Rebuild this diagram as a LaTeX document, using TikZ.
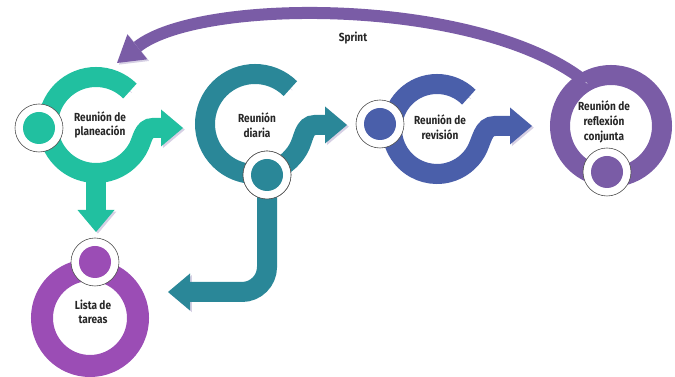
\documentclass[tikz,border=0pt]{standalone}
\usepackage{fontspec}
\newfontfamily\lblfont{Fira Sans}[FakeStretch=0.86]
\usetikzlibrary{arrows.meta,calc,positioning}

\definecolor{mint}{RGB}{33,192,160}
\definecolor{petrol}{RGB}{42,135,152}
\definecolor{indigo}{RGB}{74,95,170}
\definecolor{lilac}{RGB}{122,92,166}
\definecolor{orchid}{RGB}{155,77,181}
\definecolor{haze}{RGB}{214,208,228}

\begin{document}
\begin{tikzpicture}[
    x=0.03cm, y=0.03cm,
    every node/.style={font=\lblfont\bfseries\fontsize{10}{12.5}\selectfont, align=center, text=black!85},
    band/.style={line width=0.6cm, preaction={draw=haze, transform canvas={shift={(1.6pt,-1.4pt)}}}},
    head/.style={-{Triangle[length=0.66cm, width=1.11cm, line width=0pt]}},
    dotframe/.style={circle, draw=black!70, line width=0.5pt, fill=white, minimum size=1.44cm, inner sep=0pt},
    dotfill/.style={circle, minimum size=0.96cm, inner sep=0pt},
]
    \useasboundingbox (0,0) rectangle (675,377);

    % ring centres
    \coordinate (cplan) at (96,252);
    \coordinate (cdia) at (255,253);
    \coordinate (crev) at (437,248);
    \coordinate (cref) at (611,251);
    \coordinate (clista) at (90,59);

    % labels
    \node (plan) at ($(cplan)+(4,0)$) {Reunión de\\planeación};
    \node (diaria) at ($(cdia)+(2,-1)$) {Reunión\\diaria};
    \node (revision) at ($(crev)+(3,2)$) {Reunión de\\revisión};
    \node (reflexion) at ($(cref)+(-7,4)$) {Reunión de\\reflexión\\conjunta};
    \node (lista) at ($(clista)+(3,6)$) {Lista de\\tareas};
    \node (sprint) at (353,339) {Sprint};

    % arrow tips
    \coordinate (tip1) at ($(cplan)+(87,-3)$);
    \coordinate (tip2) at ($(cplan)+(0,-107)$);
    \coordinate (tip3) at (168,85);
    \coordinate (tip4) at ($(cdia)+(92,-1)$);
    \coordinate (tip5) at ($(crev)+(95,3)$);
    \coordinate (tip6) at (117,314);

    % rings
    \draw[band, mint, head] ($(cplan)+(45:48)$) arc[start angle=45, end angle=330, radius=48]
        to[out=60, in=180] ($(cplan)+(57,-3)$) -- (tip1);
    \draw[band, mint, head] ($(cplan)+(0,-48)$) -- (tip2);
    \draw[band, petrol, head] ($(cdia)+(45:50)$) arc[start angle=45, end angle=330, radius=50]
        to[out=60, in=180] ($(cdia)+(60,-1)$) -- (tip4);
    \draw[band, indigo, head] ($(crev)+(45:45)$) arc[start angle=45, end angle=330, radius=45]
        to[out=60, in=180] ($(crev)+(58,3)$) -- (tip5);
    \draw[band, lilac] (cref) circle[radius=51];
    \draw[lilac, line width=0.36cm, preaction={draw=haze, transform canvas={shift={(1.6pt,-1.4pt)}}},
        -{Triangle[length=0.78cm, width=0.96cm, line width=0pt]}]
        ($(cref)+(120:51)$) .. controls (480,380) and (200,380) .. (tip6);
    \draw[band, line width=0.66cm, orchid] (clista) circle[radius=48];

    % small dots
    \node[dotframe] (dot1) at (39,249) {};
    \node[dotframe] (dot2) at (267,202) {};
    \node[dotframe] (dot3) at (380,253) {};
    \node[dotframe] (dot4) at (607,205) {};
    \node[dotframe] (dot5) at (95,115) {};
    \draw[band, petrol, head, rounded corners=0.75cm] (dot2.center) |- (tip3);
    \node[dotframe] at (dot2) {};
    \node[dotfill, fill=mint] at (dot1) {};
    \node[dotfill, fill=petrol] at (dot2) {};
    \node[dotfill, fill=indigo] at (dot3) {};
    \node[dotfill, fill=lilac] at (dot4) {};
    \node[dotfill, fill=orchid] at (dot5) {};
\end{tikzpicture}
\end{document}
